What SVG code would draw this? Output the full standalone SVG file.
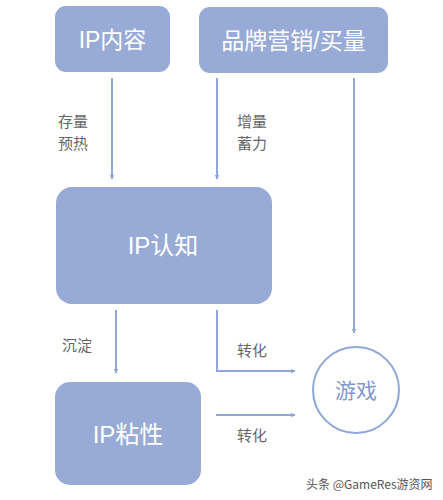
<svg xmlns="http://www.w3.org/2000/svg" width="443" height="500" viewBox="0 0 443 500">
<style>
.box{fill:#97abd6}
.bt{fill:#ffffff;font-family:"Liberation Sans","Noto Sans CJK SC",sans-serif;text-anchor:middle}
.lbl{fill:#666666;font-family:"Noto Sans CJK SC",sans-serif;font-size:15px}
.ln{stroke:#8ea6d8;stroke-width:2;fill:none}
</style>
<defs>
<marker id="ah" viewBox="0 0 10 10" refX="9" refY="5" markerWidth="5" markerHeight="5" orient="auto" markerUnits="userSpaceOnUse">
<path d="M0,0 L10,5 L0,10 z" fill="#8ea6d8"/>
</marker>
</defs>
<rect width="443" height="500" fill="#ffffff"/>
<g id="n-ipcontent">
<rect class="box" x="55" y="6" width="115" height="66" rx="11"/>
<text class="bt" x="112.5" y="48" font-size="23">IP内容</text>
</g>
<g id="n-brand">
<rect class="box" x="199" y="7" width="189" height="66" rx="11"/>
<text class="bt" x="293.5" y="49" font-size="23">品牌营销/买量</text>
</g>
<g id="n-ipaware">
<rect class="box" x="56" y="187" width="216" height="117" rx="16"/>
<text class="bt" x="163" y="254" font-size="24">IP认知</text>
</g>
<g id="n-ipsticky">
<rect class="box" x="55" y="382" width="146" height="103" rx="15"/>
<text class="bt" x="128" y="443" font-size="24">IP粘性</text>
</g>
<g id="n-game">
<circle cx="356" cy="390" r="43" fill="#ffffff" stroke="#8ea6d8" stroke-width="2"/>
<text x="356" y="398" font-size="21" text-anchor="middle" fill="#7f99cf" font-family="Noto Sans CJK SC,sans-serif">游戏</text>
</g>
<g id="connectors">
<line class="ln" x1="112" y1="78" x2="112" y2="179" marker-end="url(#ah)"/>
<line class="ln" x1="217" y1="78" x2="217" y2="179" marker-end="url(#ah)"/>
<line class="ln" x1="354" y1="78" x2="354" y2="333" marker-end="url(#ah)"/>
<line class="ln" x1="116" y1="310" x2="116" y2="373" marker-end="url(#ah)"/>
<polyline class="ln" points="217,310 217,371 295,371" marker-end="url(#ah)"/>
<line class="ln" x1="216" y1="415" x2="295" y2="415" marker-end="url(#ah)"/>
</g>
<g id="labels">
<text class="lbl" x="58" y="127">存量</text>
<text class="lbl" x="58" y="149">预热</text>
<text class="lbl" x="237" y="127">增量</text>
<text class="lbl" x="237" y="149">蓄力</text>
<text class="lbl" x="62" y="351">沉淀</text>
<text class="lbl" x="237" y="356">转化</text>
<text class="lbl" x="237" y="441">转化</text>
</g>
<text x="306" y="489" font-size="12" fill="#555555" font-family="Noto Sans CJK SC,sans-serif">头条 @GameRes游资网</text>
</svg>
